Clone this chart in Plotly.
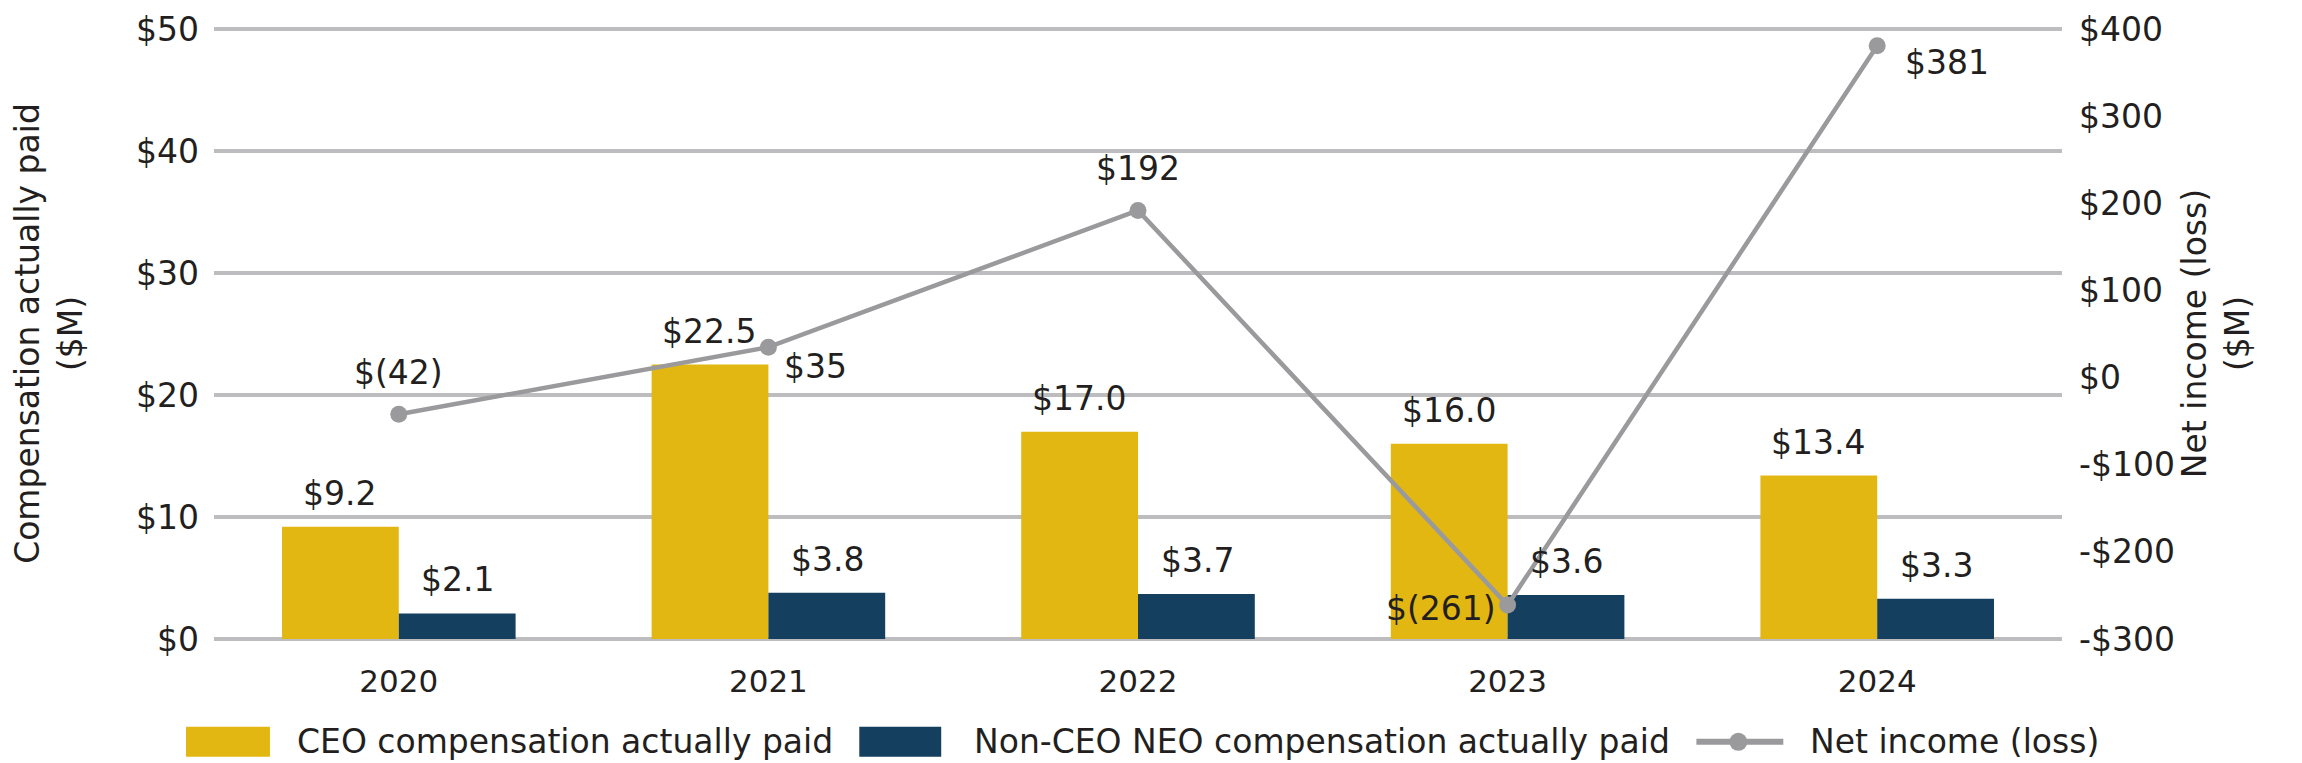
import plotly.graph_objects as go

years = ["2020", "2021", "2022", "2023", "2024"]
ceo_cap = [9.2, 22.5, 17.0, 16.0, 13.4]
neo_cap = [2.1, 3.8, 3.7, 3.6, 3.3]
net_income = [-42, 35, 192, -261, 381]

ceo_labels = ["$9.2", "$22.5", "$17.0", "$16.0", "$13.4"]
neo_labels = ["$2.1", "$3.8", "$3.7", "$3.6", "$3.3"]
ni_labels = ["$(42)", "$35", "$192", "$(261)", "$381"]

left_tickvals = [0, 10, 20, 30, 40, 50]
left_ticktext = ["$0", "$10", "$20", "$30", "$40", "$50"]
right_tickvals = [-300, -200, -100, 0, 100, 200, 300, 400]
right_ticktext = ["-$300", "-$200", "-$100", "$0", "$100", "$200", "$300", "$400"]

series_names = ["CEO compensation actually paid",
                "Non-CEO NEO compensation actually paid",
                "Net income (loss)"]

GOLD = "#E2B712"
NAVY = "#143F5F"
LINEGREY = "#9A9A9D"
GRID = "#BDBDBF"
TXT = "#231F20"
FONT = "DejaVu Sans"
FS = 33

W, H = 2302, 763
ML, MR, MT, MB = 206, 248, 20, 132

# reference plot-area geometry used for placing the legend relative to the plot
RL, RR, RT, RB = 213, 2063, 22, 634


def lx(px):
    return (px - RL) / (RR - RL)


def ly(py):
    return (RB - py) / (RB - RT)


fig = go.Figure()
fig.add_trace(go.Bar(x=years, y=ceo_cap, name=series_names[0],
                     marker=dict(color=GOLD, line=dict(width=0)), yaxis="y", showlegend=False))
fig.add_trace(go.Bar(x=years, y=neo_cap, name=series_names[1],
                     marker=dict(color=NAVY, line=dict(width=0)), yaxis="y", showlegend=False))
fig.add_trace(go.Scatter(x=years, y=net_income, name=series_names[2], mode="lines+markers",
                         line=dict(color=LINEGREY, width=4.5),
                         marker=dict(color=LINEGREY, size=17), yaxis="y2", showlegend=False))

annotations = []
for i in range(len(years)):
    annotations.append(dict(x=i, y=ceo_cap[i], xref="x", yref="y", text=ceo_labels[i],
                            showarrow=False, xshift=-59, yshift=12, yanchor="bottom",
                            font=dict(family=FONT, size=FS, color=TXT)))
    annotations.append(dict(x=i, y=neo_cap[i], xref="x", yref="y", text=neo_labels[i],
                            showarrow=False, xshift=59, yshift=12, yanchor="bottom",
                            font=dict(family=FONT, size=FS, color=TXT)))
offs = [
    dict(xanchor="center", yanchor="bottom", xshift=0, yshift=20),
    dict(xanchor="left", yanchor="middle", xshift=14, yshift=-19),
    dict(xanchor="center", yanchor="bottom", xshift=0, yshift=20),
    dict(xanchor="right", yanchor="middle", xshift=-10, yshift=-3),
    dict(xanchor="left", yanchor="middle", xshift=26, yshift=-17),
]
for i in range(len(years)):
    a = dict(x=i, y=net_income[i], xref="x", yref="y2", text=ni_labels[i], showarrow=False,
             font=dict(family=FONT, size=FS, color=TXT))
    a.update(offs[i])
    annotations.append(a)

# custom legend with large swatches like the reference
LEG_Y = 737
shapes = []
for x0, x1, c in [(185, 269, GOLD), (859, 941, NAVY)]:
    shapes.append(dict(type="rect", xref="paper", yref="paper",
                       x0=lx(x0), x1=lx(x1), y0=ly(LEG_Y + 15), y1=ly(LEG_Y - 15),
                       fillcolor=c, line=dict(width=0), layer="above"))
shapes.append(dict(type="line", xref="paper", yref="paper",
                   x0=lx(1697), x1=lx(1784), y0=ly(LEG_Y), y1=ly(LEG_Y),
                   line=dict(color=LINEGREY, width=6)))
shapes.append(dict(type="circle", xref="paper", yref="paper",
                   x0=lx(1739 - 9), x1=lx(1739 + 9), y0=ly(LEG_Y + 9), y1=ly(LEG_Y - 9),
                   fillcolor=LINEGREY, line=dict(width=0)))
for xs, name in zip([294, 972, 1809], series_names):
    annotations.append(dict(x=lx(xs), y=ly(LEG_Y), xref="paper", yref="paper",
                            text=name, showarrow=False, xanchor="left", yanchor="middle",
                            font=dict(family=FONT, size=FS, color=TXT)))

fig.update_layout(
    width=W, height=H,
    paper_bgcolor="white", plot_bgcolor="white",
    margin=dict(l=ML, r=MR, t=MT, b=MB, autoexpand=False),
    barmode="group", bargap=0.368, bargroupgap=0,
    font=dict(family=FONT, size=FS, color=TXT),
    showlegend=False,
    xaxis=dict(type="category", range=[-0.5, 4.5], showgrid=False, showline=False,
               zeroline=False, ticks="", ticklabelstandoff=21, automargin=False,
               tickfont=dict(family=FONT, size=31, color=TXT)),
    yaxis=dict(range=[0, 50.1], tickvals=left_tickvals, ticktext=left_ticktext,
               showgrid=True, gridcolor=GRID, gridwidth=4, zeroline=True, zerolinecolor=GRID,
               zerolinewidth=4, showline=False, ticks="", ticklabelstandoff=14,
               automargin=False, ticklabeloverflow="allow",
               tickfont=dict(family=FONT, size=33, color=TXT),
               title=dict(text="Compensation actually paid<br>($M)", standoff=74,
                          font=dict(family=FONT, size=FS, color=TXT))),
    yaxis2=dict(range=[-300, 401.4], tickvals=right_tickvals, ticktext=right_ticktext,
                overlaying="y", side="right", showgrid=False, zeroline=False, showline=False,
                ticks="", ticklabelstandoff=16, automargin=False, ticklabeloverflow="allow",
                tickfont=dict(family=FONT, size=33, color=TXT),
                title=dict(text="Net income (loss)<br>($M)", standoff=0,
                           font=dict(family=FONT, size=FS, color=TXT))),
    annotations=annotations,
    shapes=shapes,
)

fig.write_html("out.html")
